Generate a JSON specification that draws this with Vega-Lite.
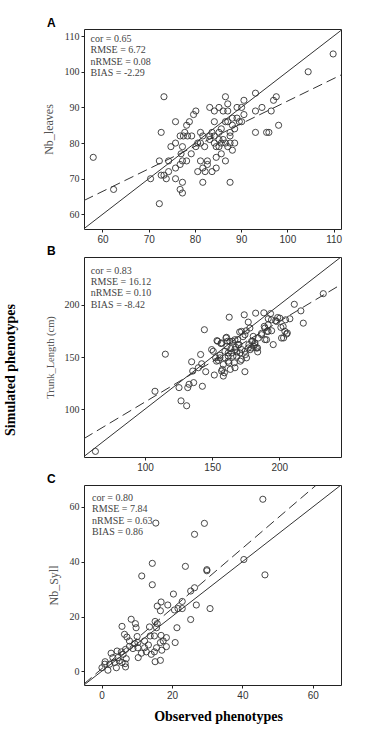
{
  "$schema": "https://vega.github.io/schema/vega-lite/v6.json",
  "background": "white",
  "padding": {"left": 3, "top": 16, "right": 5, "bottom": 2},
  "bounds": "flush",
  "spacing": 28,
  "title": {
    "text": "Simulated phenotypes",
    "orient": "left",
    "anchor": "middle",
    "font": "Liberation Serif",
    "fontSize": 14,
    "fontWeight": "bold",
    "color": "#000",
    "offset": 24
  },
  "config": {
    "view": {"stroke": "#222", "strokeWidth": 1},
    "axis": {
      "grid": false,
      "domain": false,
      "tickColor": "#222",
      "tickSize": 3,
      "labelFontSize": 10,
      "labelColor": "#333",
      "labelPadding": 2,
      "labelOverlap": false,
      "titleFont": "Liberation Serif",
      "titleFontSize": 12,
      "titleFontWeight": "normal",
      "titleColor": "#555"
    },
    "axisX": {"labelFont": "Liberation Sans", "labelPadding": 2},
    "axisY": {"labelFont": "Liberation Serif", "titlePadding": 9},
    "title": {"font": "Liberation Sans", "fontSize": 12, "fontWeight": "bold", "color": "#000"}
  },
  "datasets": {
    "leaves": [
      {"obs": 58, "sim": 76}, {"obs": 62.4, "sim": 67}, {"obs": 70.4, "sim": 70}, {"obs": 72.3, "sim": 63},
      {"obs": 72.3, "sim": 75}, {"obs": 72.7, "sim": 83}, {"obs": 73.3, "sim": 93}, {"obs": 72.7, "sim": 71},
      {"obs": 73.3, "sim": 71}, {"obs": 73.8, "sim": 70}, {"obs": 74.3, "sim": 72}, {"obs": 74.3, "sim": 75},
      {"obs": 74.8, "sim": 79}, {"obs": 75.8, "sim": 80}, {"obs": 75.8, "sim": 73}, {"obs": 75.8, "sim": 70},
      {"obs": 75.8, "sim": 86}, {"obs": 76.8, "sim": 67}, {"obs": 77, "sim": 77}, {"obs": 76.8, "sim": 74},
      {"obs": 76.8, "sim": 82}, {"obs": 77.3, "sim": 79}, {"obs": 77.3, "sim": 75}, {"obs": 77.3, "sim": 69},
      {"obs": 77.3, "sim": 66}, {"obs": 77.5, "sim": 82}, {"obs": 77.8, "sim": 83}, {"obs": 78.2, "sim": 85},
      {"obs": 78.4, "sim": 82}, {"obs": 78.2, "sim": 75}, {"obs": 78.8, "sim": 86}, {"obs": 79.3, "sim": 82},
      {"obs": 79.2, "sim": 77}, {"obs": 79.7, "sim": 88}, {"obs": 80.2, "sim": 89}, {"obs": 80.2, "sim": 79},
      {"obs": 80.6, "sim": 80}, {"obs": 80.6, "sim": 72}, {"obs": 81.2, "sim": 83}, {"obs": 81.2, "sim": 75},
      {"obs": 81.2, "sim": 80}, {"obs": 81.7, "sim": 82}, {"obs": 81.7, "sim": 73}, {"obs": 81.7, "sim": 69},
      {"obs": 82.1, "sim": 79}, {"obs": 82.2, "sim": 72}, {"obs": 82.7, "sim": 75}, {"obs": 82.7, "sim": 74},
      {"obs": 83.2, "sim": 90}, {"obs": 83.2, "sim": 82}, {"obs": 83.2, "sim": 81}, {"obs": 83.7, "sim": 83},
      {"obs": 83.7, "sim": 72}, {"obs": 84.2, "sim": 89}, {"obs": 84.2, "sim": 86}, {"obs": 84.2, "sim": 82},
      {"obs": 84.2, "sim": 80}, {"obs": 84.6, "sim": 79}, {"obs": 84.6, "sim": 76}, {"obs": 84.6, "sim": 73},
      {"obs": 85.2, "sim": 90}, {"obs": 85.2, "sim": 83}, {"obs": 85.2, "sim": 81}, {"obs": 85.2, "sim": 79},
      {"obs": 85.7, "sim": 84}, {"obs": 85.7, "sim": 80}, {"obs": 85.7, "sim": 77}, {"obs": 86.1, "sim": 89},
      {"obs": 86.1, "sim": 81}, {"obs": 86.6, "sim": 93}, {"obs": 86.6, "sim": 86}, {"obs": 86.6, "sim": 80},
      {"obs": 86.6, "sim": 75}, {"obs": 87.1, "sim": 91}, {"obs": 87.1, "sim": 89}, {"obs": 87.1, "sim": 86},
      {"obs": 87.1, "sim": 79}, {"obs": 87.6, "sim": 83}, {"obs": 87.6, "sim": 82}, {"obs": 87.6, "sim": 80},
      {"obs": 87.6, "sim": 69}, {"obs": 88.1, "sim": 87}, {"obs": 88.1, "sim": 85}, {"obs": 88.6, "sim": 84},
      {"obs": 88.1, "sim": 78}, {"obs": 88.6, "sim": 80}, {"obs": 89.1, "sim": 90}, {"obs": 89.1, "sim": 87},
      {"obs": 89.6, "sim": 86}, {"obs": 90.1, "sim": 90}, {"obs": 90.1, "sim": 86}, {"obs": 90.6, "sim": 88},
      {"obs": 90.6, "sim": 92}, {"obs": 93.1, "sim": 94}, {"obs": 93.1, "sim": 89}, {"obs": 93.1, "sim": 83},
      {"obs": 94.5, "sim": 90}, {"obs": 95.5, "sim": 83}, {"obs": 96, "sim": 83}, {"obs": 96.5, "sim": 89},
      {"obs": 97, "sim": 92}, {"obs": 97.6, "sim": 93}, {"obs": 98.1, "sim": 85}, {"obs": 104.5, "sim": 100},
      {"obs": 109.9, "sim": 105}
    ],
    "trunk": [
      {"obs": 63, "sim": 59.4}, {"obs": 107.4, "sim": 117.1}, {"obs": 115.1, "sim": 152.7}, {"obs": 125.3, "sim": 120.6},
      {"obs": 126.8, "sim": 107.9}, {"obs": 131, "sim": 103.2}, {"obs": 131.8, "sim": 120.6}, {"obs": 132.8, "sim": 123.8},
      {"obs": 136.2, "sim": 125.4}, {"obs": 134.7, "sim": 145.4}, {"obs": 135.5, "sim": 136.5}, {"obs": 139.7, "sim": 139.7},
      {"obs": 141.4, "sim": 152.4}, {"obs": 142.7, "sim": 121.9}, {"obs": 142.2, "sim": 143.5}, {"obs": 144.2, "sim": 176.2},
      {"obs": 145.2, "sim": 135.9}, {"obs": 149.6, "sim": 157.1}, {"obs": 151.6, "sim": 132.7}, {"obs": 153.6, "sim": 165.7},
      {"obs": 152.6, "sim": 149.2}, {"obs": 154.6, "sim": 146.7}, {"obs": 155.8, "sim": 151.7}, {"obs": 156.6, "sim": 162.9},
      {"obs": 162.7, "sim": 188.2}, {"obs": 157.6, "sim": 138.1}, {"obs": 158.3, "sim": 131.7}, {"obs": 159.1, "sim": 134.9},
      {"obs": 159.6, "sim": 149.2}, {"obs": 160.3, "sim": 168.3}, {"obs": 161, "sim": 160.3}, {"obs": 161.5, "sim": 165.1},
      {"obs": 162, "sim": 154}, {"obs": 162.5, "sim": 144.4}, {"obs": 163.5, "sim": 138.1}, {"obs": 164, "sim": 158.1},
      {"obs": 165, "sim": 165.1}, {"obs": 165.5, "sim": 150.8}, {"obs": 166.5, "sim": 144.4}, {"obs": 167, "sim": 139.7},
      {"obs": 167.5, "sim": 159.4}, {"obs": 168.5, "sim": 154.9}, {"obs": 169, "sim": 166.7}, {"obs": 170, "sim": 161.9},
      {"obs": 170.5, "sim": 174}, {"obs": 171, "sim": 146}, {"obs": 172, "sim": 157.1}, {"obs": 173, "sim": 169.5},
      {"obs": 173.9, "sim": 190.5}, {"obs": 174.4, "sim": 135.9}, {"obs": 174.9, "sim": 152.4}, {"obs": 175.4, "sim": 175.2},
      {"obs": 176.9, "sim": 183.5}, {"obs": 177.4, "sim": 161.9}, {"obs": 178.4, "sim": 157.1}, {"obs": 179.4, "sim": 165.1},
      {"obs": 180.9, "sim": 160.3}, {"obs": 181.9, "sim": 163.5}, {"obs": 182.4, "sim": 192.1}, {"obs": 182.9, "sim": 158.7},
      {"obs": 183.9, "sim": 154.9}, {"obs": 186.8, "sim": 172.7}, {"obs": 188.5, "sim": 192.4}, {"obs": 188.8, "sim": 179.4},
      {"obs": 189.3, "sim": 166.7}, {"obs": 190.8, "sim": 174.6}, {"obs": 191.8, "sim": 186.7}, {"obs": 193.5, "sim": 191.7},
      {"obs": 194.3, "sim": 175.2}, {"obs": 195.5, "sim": 161.9}, {"obs": 197.3, "sim": 184.8}, {"obs": 198.8, "sim": 187.9},
      {"obs": 201.2, "sim": 178.4}, {"obs": 203.2, "sim": 168.3}, {"obs": 204.2, "sim": 174.6}, {"obs": 204.7, "sim": 185.7},
      {"obs": 206, "sim": 173}, {"obs": 207.9, "sim": 186.7}, {"obs": 211.2, "sim": 200.6}, {"obs": 216.1, "sim": 194.3},
      {"obs": 217.9, "sim": 182.5}, {"obs": 232.8, "sim": 210.8}, {"obs": 154.1, "sim": 165.1}, {"obs": 157, "sim": 163.5},
      {"obs": 160.7, "sim": 168.9}, {"obs": 163.2, "sim": 165.1}, {"obs": 166.9, "sim": 166.6}, {"obs": 171.9, "sim": 174.6},
      {"obs": 174.4, "sim": 171.4}, {"obs": 178.1, "sim": 177.8}, {"obs": 180.1, "sim": 165.1}, {"obs": 181.8, "sim": 161.9},
      {"obs": 183.8, "sim": 158.7}, {"obs": 176.9, "sim": 158.7}, {"obs": 174.4, "sim": 155.5}, {"obs": 170.7, "sim": 153.9},
      {"obs": 168.2, "sim": 150.8}, {"obs": 162, "sim": 146}, {"obs": 158.3, "sim": 142.8}, {"obs": 155.8, "sim": 149.2},
      {"obs": 153.3, "sim": 146}, {"obs": 150.8, "sim": 155.5}, {"obs": 157, "sim": 136.5}, {"obs": 190.5, "sim": 166.6},
      {"obs": 191.7, "sim": 174.6}, {"obs": 201.7, "sim": 168.2}, {"obs": 202.9, "sim": 179.3}, {"obs": 205.4, "sim": 172},
      {"obs": 200.4, "sim": 187.3}, {"obs": 198, "sim": 184.1}, {"obs": 194.2, "sim": 185.7}, {"obs": 191.7, "sim": 180.9},
      {"obs": 189.3, "sim": 177.8}, {"obs": 186.8, "sim": 171.4}, {"obs": 184.3, "sim": 168.2}, {"obs": 180.6, "sim": 169.8},
      {"obs": 179.3, "sim": 158.7}, {"obs": 175.6, "sim": 149.2}, {"obs": 171.9, "sim": 147.6}, {"obs": 169.4, "sim": 161.9},
      {"obs": 166.9, "sim": 157.1}, {"obs": 164.5, "sim": 153.9}, {"obs": 162, "sim": 150.8}, {"obs": 159.5, "sim": 155.5}
    ],
    "syll": [
      {"obs": 45.8, "sim": 62.8}, {"obs": 15.4, "sim": 54.1}, {"obs": 29.2, "sim": 54}, {"obs": 26.4, "sim": 50},
      {"obs": 14.4, "sim": 39.4}, {"obs": 23.8, "sim": 38.3}, {"obs": 40.4, "sim": 40.8}, {"obs": 29.9, "sim": 37.1},
      {"obs": 29.9, "sim": 36.7}, {"obs": 46.4, "sim": 35.2}, {"obs": 11.4, "sim": 34.8}, {"obs": 14.4, "sim": 31.6},
      {"obs": 20.4, "sim": 28.2}, {"obs": 25.3, "sim": 29.3}, {"obs": 26.4, "sim": 30.5}, {"obs": 22.9, "sim": 25.5},
      {"obs": 16.9, "sim": 25.3}, {"obs": 15.8, "sim": 23.8}, {"obs": 18.8, "sim": 24.2}, {"obs": 16.7, "sim": 22.1},
      {"obs": 20.7, "sim": 22.4}, {"obs": 21.7, "sim": 22.9}, {"obs": 22.9, "sim": 22.9}, {"obs": 26.9, "sim": 24.2},
      {"obs": 30.8, "sim": 22.9}, {"obs": 8.4, "sim": 19}, {"obs": 5.8, "sim": 16.4}, {"obs": 9.6, "sim": 17.4},
      {"obs": 9.8, "sim": 15.9}, {"obs": 15.2, "sim": 18.2}, {"obs": 15.8, "sim": 17.4}, {"obs": 15.6, "sim": 15.9},
      {"obs": 21.4, "sim": 15.9}, {"obs": 25.3, "sim": 18.9}, {"obs": 20.9, "sim": 10.5}, {"obs": 15, "sim": 12.9},
      {"obs": 16.9, "sim": 13.1}, {"obs": 18.4, "sim": 12.3}, {"obs": 13.8, "sim": 12.9}, {"obs": 13.6, "sim": 16.2},
      {"obs": 10.1, "sim": 12.7}, {"obs": 10.3, "sim": 10.5}, {"obs": 12.2, "sim": 11.1}, {"obs": 6.5, "sim": 13.5},
      {"obs": 7.2, "sim": 12.5}, {"obs": 7.9, "sim": 11.1}, {"obs": 8.9, "sim": 8.3}, {"obs": 10.4, "sim": 5},
      {"obs": 11.3, "sim": 6.6}, {"obs": 12.7, "sim": 7.1}, {"obs": 14.1, "sim": 6.2}, {"obs": 15.2, "sim": 3.5},
      {"obs": 16.7, "sim": 4}, {"obs": 15, "sim": 7.1}, {"obs": 17.1, "sim": 7.7}, {"obs": 15.6, "sim": 8.6},
      {"obs": 18.4, "sim": 9}, {"obs": 16.7, "sim": 10.5}, {"obs": 17.5, "sim": 11.1}, {"obs": 13.3, "sim": 9.6},
      {"obs": 12.2, "sim": 8.6}, {"obs": 10.3, "sim": 8.6}, {"obs": 2.7, "sim": 6.6}, {"obs": 4.4, "sim": 7.4},
      {"obs": 5.6, "sim": 7.1}, {"obs": 3.2, "sim": 5}, {"obs": 4.6, "sim": 5}, {"obs": 6.1, "sim": 6.2},
      {"obs": 6.8, "sim": 8}, {"obs": 7, "sim": 4.6}, {"obs": 6.7, "sim": 2.8}, {"obs": 6.8, "sim": 1.6},
      {"obs": 4.2, "sim": 1.3}, {"obs": 3.7, "sim": 3.2}, {"obs": 2.3, "sim": 2.6}, {"obs": 1, "sim": 3.5},
      {"obs": 0.9, "sim": 2.6}, {"obs": 0.1, "sim": 1.3}, {"obs": 1.8, "sim": 0.4}, {"obs": 5, "sim": 3.8},
      {"obs": 5.8, "sim": 3.2}, {"obs": 7.9, "sim": 9.1}, {"obs": 9.4, "sim": 10.1}
    ],
    "leavesIdentity": [{"obs": 56, "sim": 56}, {"obs": 112, "sim": 112}],
    "leavesFit": [{"obs": 56, "sim": 63.9}, {"obs": 111.6, "sim": 99.1}],
    "trunkIdentity": [{"obs": 54.5, "sim": 54.5}, {"obs": 246, "sim": 246}],
    "trunkFit": [{"obs": 54.5, "sim": 71.7}, {"obs": 246, "sim": 219.6}],
    "syllIdentity": [{"obs": -5, "sim": -5}, {"obs": 68, "sim": 68}],
    "syllFit": [{"obs": -5, "sim": -4.6}, {"obs": 61, "sim": 68}]
  },
  "vconcat": [
    {
      "width": 257,
      "height": 200,
      "title": {"text": "A", "anchor": "start", "frame": "group", "dx": -37, "offset": -1},
      "layer": [
        {
          "data": {"name": "leaves"},
          "mark": {"type": "point", "shape": "circle", "filled": false, "size": 38, "stroke": "#333", "strokeWidth": 0.9, "opacity": 1},
          "encoding": {
            "x": {"field": "obs", "type": "quantitative", "scale": {"domain": [56, 111.6], "nice": false, "zero": false},
                  "axis": {"title": null, "values": [60, 70, 80, 90, 100, 110]}},
            "y": {"field": "sim", "type": "quantitative", "scale": {"domain": [55.9, 112], "nice": false, "zero": false},
                  "axis": {"title": "Nb_leaves", "values": [60, 70, 80, 90, 100, 110]}}
          }
        },
        {
          "data": {"name": "leavesIdentity"},
          "mark": {"type": "line", "stroke": "#333", "strokeWidth": 1, "clip": true},
          "encoding": {
            "x": {"field": "obs", "type": "quantitative", "axis": {"title": null, "values": [60, 70, 80, 90, 100, 110]}},
            "y": {"field": "sim", "type": "quantitative", "axis": {"title": "Nb_leaves", "values": [60, 70, 80, 90, 100, 110]}}
          }
        },
        {
          "data": {"name": "leavesFit"},
          "mark": {"type": "line", "stroke": "#333", "strokeWidth": 1, "strokeDash": [10, 5], "clip": true},
          "encoding": {
            "x": {"field": "obs", "type": "quantitative", "axis": {"title": null, "values": [60, 70, 80, 90, 100, 110]}},
            "y": {"field": "sim", "type": "quantitative", "axis": {"title": "Nb_leaves", "values": [60, 70, 80, 90, 100, 110]}}
          }
        },
        {
          "data": {"values": [{"stat": "cor = 0.65\nRMSE = 6.72\nnRMSE = 0.08\nBIAS = -2.29"}]},
          "mark": {"type": "text", "align": "left", "baseline": "top", "lineBreak": "\n", "lineHeight": 11.3,
                   "font": "Liberation Serif", "fontSize": 10, "color": "#444"},
          "encoding": {
            "x": {"datum": 57.4, "type": "quantitative", "axis": {"title": null, "values": [60, 70, 80, 90, 100, 110]}},
            "y": {"datum": 110.6, "type": "quantitative", "axis": {"title": "Nb_leaves", "values": [60, 70, 80, 90, 100, 110]}},
            "text": {"field": "stat"}
          }
        }
      ]
    },
    {
      "width": 257,
      "height": 200,
      "title": {"text": "B", "anchor": "start", "frame": "group", "dx": -37, "offset": -1},
      "layer": [
        {
          "data": {"name": "trunk"},
          "mark": {"type": "point", "shape": "circle", "filled": false, "size": 38, "stroke": "#333", "strokeWidth": 0.9, "opacity": 1},
          "encoding": {
            "x": {"field": "obs", "type": "quantitative", "scale": {"domain": [54.5, 246], "nice": false, "zero": false},
                  "axis": {"title": null, "values": [100, 150, 200]}},
            "y": {"field": "sim", "type": "quantitative", "scale": {"domain": [54, 246], "nice": false, "zero": false},
                  "axis": {"title": "Trunk_Length (cm)", "titleFontSize": 10.5, "values": [100, 150, 200]}}
          }
        },
        {
          "data": {"name": "trunkIdentity"},
          "mark": {"type": "line", "stroke": "#333", "strokeWidth": 1, "clip": true},
          "encoding": {
            "x": {"field": "obs", "type": "quantitative", "axis": {"title": null, "values": [100, 150, 200]}},
            "y": {"field": "sim", "type": "quantitative", "axis": {"title": "Trunk_Length (cm)", "titleFontSize": 10.5, "values": [100, 150, 200]}}
          }
        },
        {
          "data": {"name": "trunkFit"},
          "mark": {"type": "line", "stroke": "#333", "strokeWidth": 1, "strokeDash": [10, 5], "clip": true},
          "encoding": {
            "x": {"field": "obs", "type": "quantitative", "axis": {"title": null, "values": [100, 150, 200]}},
            "y": {"field": "sim", "type": "quantitative", "axis": {"title": "Trunk_Length (cm)", "titleFontSize": 10.5, "values": [100, 150, 200]}}
          }
        },
        {
          "data": {"values": [{"stat": "cor = 0.83\nRMSE = 16.12\nnRMSE = 0.10\nBIAS = -8.42"}]},
          "mark": {"type": "text", "align": "left", "baseline": "top", "lineBreak": "\n", "lineHeight": 11.3,
                   "font": "Liberation Serif", "fontSize": 10, "color": "#444"},
          "encoding": {
            "x": {"datum": 59.6, "type": "quantitative", "axis": {"title": null, "values": [100, 150, 200]}},
            "y": {"datum": 237.5, "type": "quantitative", "axis": {"title": "Trunk_Length (cm)", "titleFontSize": 10.5, "values": [100, 150, 200]}},
            "text": {"field": "stat"}
          }
        }
      ]
    },
    {
      "width": 257,
      "height": 200,
      "title": {"text": "C", "anchor": "start", "frame": "group", "dx": -37, "offset": -1},
      "layer": [
        {
          "data": {"name": "syll"},
          "mark": {"type": "point", "shape": "circle", "filled": false, "size": 38, "stroke": "#333", "strokeWidth": 0.9, "opacity": 1},
          "encoding": {
            "x": {"field": "obs", "type": "quantitative", "scale": {"domain": [-5, 68], "nice": false, "zero": false},
                  "axis": {"title": "Observed phenotypes", "values": [0, 20, 40, 60], "titleFont": "Liberation Serif",
                           "titleFontSize": 14, "titleFontWeight": "bold", "titleColor": "#000", "titlePadding": 9, "titleX": 134}},
            "y": {"field": "sim", "type": "quantitative", "scale": {"domain": [-5, 68], "nice": false, "zero": false},
                  "axis": {"title": "Nb_Syll", "values": [0, 20, 40, 60]}}
          }
        },
        {
          "data": {"name": "syllIdentity"},
          "mark": {"type": "line", "stroke": "#333", "strokeWidth": 1, "clip": true},
          "encoding": {
            "x": {"field": "obs", "type": "quantitative"},
            "y": {"field": "sim", "type": "quantitative"}
          }
        },
        {
          "data": {"name": "syllFit"},
          "mark": {"type": "line", "stroke": "#333", "strokeWidth": 1, "strokeDash": [10, 5], "clip": true},
          "encoding": {
            "x": {"field": "obs", "type": "quantitative"},
            "y": {"field": "sim", "type": "quantitative"}
          }
        },
        {
          "data": {"values": [{"stat": "cor = 0.80\nRMSE = 7.84\nnRMSE = 0.63\nBIAS = 0.86"}]},
          "mark": {"type": "text", "align": "left", "baseline": "top", "lineBreak": "\n", "lineHeight": 11.3,
                   "font": "Liberation Serif", "fontSize": 10, "color": "#444"},
          "encoding": {
            "x": {"datum": -2.7, "type": "quantitative"},
            "y": {"datum": 65.1, "type": "quantitative"},
            "text": {"field": "stat"}
          }
        }
      ]
    }
  ]
}
